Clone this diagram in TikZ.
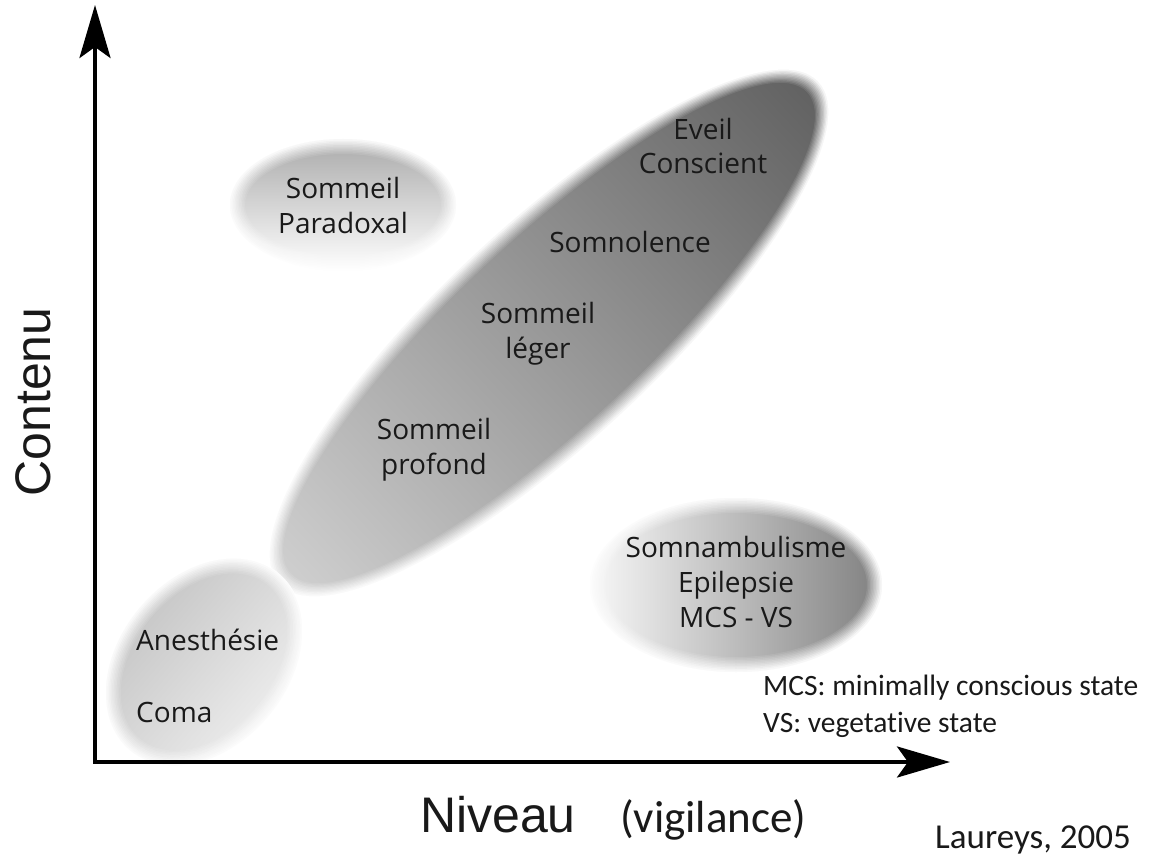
\documentclass[tikz,border=0pt]{standalone}
\usepackage{fontspec}
\setmainfont{Open Sans}
\newfontfamily\notefont[Ligatures=NoCommon]{Carlito}
\newfontfamily\axisfont{Liberation Sans}
\usetikzlibrary{arrows.meta}
\definecolor{bigL}{RGB}{208,208,208}
\definecolor{bigD}{RGB}{96,96,96}
\definecolor{parT}{RGB}{170,170,170}
\definecolor{somL}{RGB}{248,248,248}
\definecolor{somD}{RGB}{128,128,128}
\definecolor{anT}{RGB}{198,198,198}
\definecolor{anB}{RGB}{236,236,236}
\definecolor{txt}{RGB}{25,25,25}
\newcommand\softell[5]{%
  \begin{scope}[transform canvas={shift={(#1)},rotate=#2}]
    \path[#5] (0,0) ellipse [x radius=#3pt, y radius=#4pt];
    \foreach \k [evaluate=\k as \op using {1/(\k+0.5)}] in {1,...,10}{%
      \fill[white, fill opacity=\op, even odd rule]
        (0,0) ellipse [x radius={#3pt+1pt}, y radius={#4pt+1pt}]
        (0,0) ellipse [x radius={#3pt-1.5pt*\k}, y radius={#4pt-1.5pt*\k}];}
  \end{scope}}
\begin{document}
\begin{tikzpicture}[x=1pt,y=-1pt,
  lab/.style={font=\fontsize{28}{35}\selectfont, align=center, inner sep=0pt, text=txt},
  note/.style={font=\notefont\fontsize{29.5}{37}\selectfont, align=left, inner sep=0pt, text=txt},
  axislabel/.style={font=\axisfont\fontsize{50}{60}\selectfont, inner sep=0pt, text=txt},
  axisline/.style={line width=4pt, {Stealth[length=53pt,width=31pt,inset=11pt]}-{Stealth[length=53pt,width=31pt,inset=11pt]}}]
\useasboundingbox (0,0) rectangle (1154,856);
\fill[white] (0,0) rectangle (1154,856);
% ellipse centres
\coordinate (cpar) at (343,205);
\coordinate (cbig) at (549,333);
\coordinate (csom) at (736,585);
\coordinate (cane) at (204,662);
% regions
\softell{cpar}{0}{113}{66}{top color=parT, bottom color=white}
\softell{cbig}{43}{368}{108}{left color=bigL, right color=bigD}
\softell{csom}{0}{146}{87}{left color=somL, right color=somD}
\softell{cane}{50}{115}{84}{top color=anT, bottom color=anB}
% axes
\coordinate (O) at (95,762);
\coordinate (ytip) at (95,5);
\coordinate (xtip) at (950,762);
\draw[axisline] (ytip) -- (O) -- (xtip);
% labels
\node[lab] (par) at (343,205) {Sommeil\\Paradoxal};
\node[lab] (eveil) at (703,146) {Eveil\\Conscient};
\node[lab] (somno) at (630,242) {Somnolence};
\node[lab] (leger) at (538,334) {Sommeil\\léger};
\node[lab] (prof) at (434,450) {Sommeil\\profond};
\node[lab] (somn) at (736,582) {Somnambulisme\\Epilepsie\\MCS - VS};
\node[lab, anchor=west] (anes) at (136,640) {Anesthésie};
\node[lab, anchor=west] (coma) at (136,712) {Coma};
\node[note, anchor=west] (mcs) at (763,688) {MCS: minimally conscious state};
\node[note, anchor=west] (vs) at (763,725) {VS: vegetative state};
\node[axislabel, anchor=base] (niv) at (498,832) {Niveau};
\node[font=\notefont\fontsize{45}{54}\selectfont, inner sep=0pt, anchor=base west, text=txt] (vig) at (620,832) {(vigilance)};
\node[axislabel, anchor=base, rotate=90] (cont) at (50,402) {Contenu};
\node[font=\notefont\fontsize{35}{40}\selectfont, inner sep=0pt, anchor=base west, text=txt] (laur) at (935,848) {Laureys, 2005};
\end{tikzpicture}
\end{document}
